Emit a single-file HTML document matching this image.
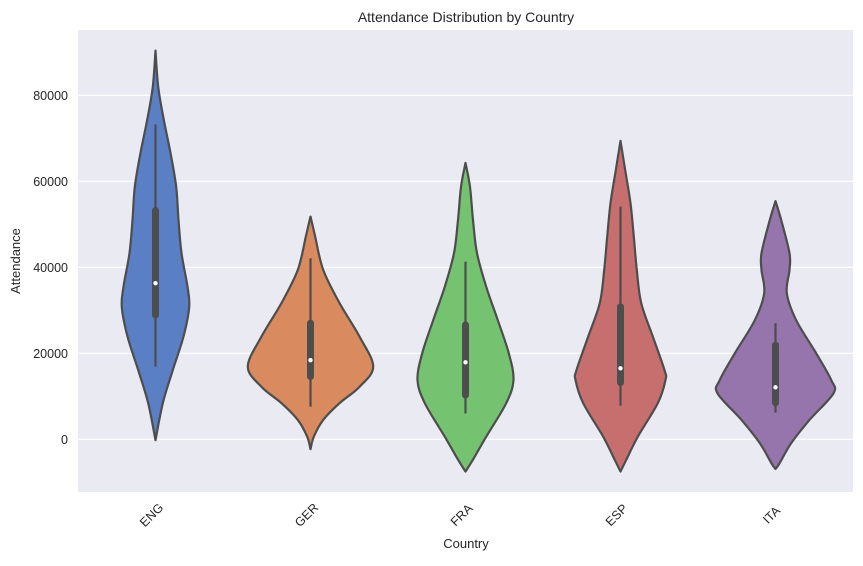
<!DOCTYPE html>
<html><head><meta charset="utf-8"><style>
body{margin:0;background:#fff;}
svg text{font-family:"Liberation Sans",Arial,sans-serif;fill:#262626;}
</style></head><body>
<svg id="chart" width="863" height="561" viewBox="0 0 863 561" xmlns="http://www.w3.org/2000/svg">
<rect x="78" y="30" width="775" height="462" fill="#eaeaf2"/>
<g id="grid"></g>
<g id="violins"></g>
<g id="axes"></g>
<text x="466" y="22" font-size="14" text-anchor="middle">Attendance Distribution by Country</text>
<text x="466" y="548" font-size="13" text-anchor="middle">Country</text>
<text x="0" y="0" font-size="13" text-anchor="middle" transform="translate(20,261) rotate(-90)">Attendance</text>
</svg>
<script>
const categories = ["ENG","GER","FRA","ESP","ITA"];
const colors = ["#5a7fc5","#d98a5e","#75c271","#c76e6e","#9575ab"];
const yTicks = [0,20000,40000,60000,80000];
// density profiles: [value, relative density]
const profENG = [[90400,0],[82000,2.7],[74300,8.3],[66600,15],[58700,20.7],[51000,23],[43300,26],[35500,32],[30800,33.7],[23900,28],[16100,17.3],[8400,7.3],[-200,0]];
const profGER = [[51800,0],[47100,4.7],[39400,12.7],[31700,29],[23900,49],[16900,62.7],[12200,49],[8400,29],[4500,12.7],[600,3.3],[-2300,0]];
const profFRA = [[64300,0],[58700,4.5],[51000,7.5],[43300,11.5],[35500,20.7],[27700,32.3],[20000,43.3],[13800,48],[8400,40.7],[600,20.7],[-4800,7.3],[-7500,0]];
const profESP = [[69400,0],[62600,4.7],[54900,10],[47100,13.3],[39400,16.3],[31700,20.7],[23900,32.3],[16100,44],[13800,45],[8400,37.3],[600,17.3],[-4800,5.7],[-7500,0]];
const profITA = [[55400,0],[51000,5.7],[43300,14],[39400,14],[34000,11.3],[27700,20.7],[20000,40.7],[13800,55.7],[10700,58],[4500,34],[-900,15.7],[-5600,4],[-6900,0]];
const profiles = [profENG,profGER,profFRA,profESP,profITA];
// [whiskerLow, q1, median, q3, whiskerHigh]
const boxENG = [16900,28900,36300,53200,73250];
const boxGER = [7600,14600,18400,27000,42100];
const boxFRA = [6000,10300,17900,26600,41300];
const boxESP = [7800,13200,16500,30800,54100];
const boxITA = [6200,8500,12100,21900,27000];
const boxes = [boxENG,boxGER,boxFRA,boxESP,boxITA];

const NS="http://www.w3.org/2000/svg";
const L=78,R=853,T=30,B=492;
function y(v){return 439.3-(v)*0.0043;}
function x(i){return L+(R-L)/categories.length*(i+0.5);}
const wScale=1.0;
function mk(tag,attrs,parent){const e=document.createElementNS(NS,tag);for(const k in attrs)e.setAttribute(k,attrs[k]);parent.appendChild(e);return e;}
const grid=document.getElementById('grid'),axes=document.getElementById('axes'),vg=document.getElementById('violins');
yTicks.forEach(t=>{
  const l=mk('line',{x1:L,x2:R,y1:y(t),y2:y(t),stroke:'#fff','stroke-width':1.2},grid);
  
  
  const tx=mk('text',{x:L-10,y:y(t)+4.5,'font-size':12.5,'text-anchor':'end'},axes);
  tx.textContent=String(t);
  
  
});
categories.forEach((c,i)=>{
  const tx=mk('text',{x:0,y:0,'font-size':12.5,'text-anchor':'middle',transform:`translate(${x(i)-1},${518}) rotate(-45)`},axes);
  tx.textContent=c;
  
  
});
function smooth(pts){
  let d=`M${pts[0][0]},${pts[0][1]}`;
  for(let i=0;i<pts.length-1;i++){
    const p0=pts[Math.max(i-1,0)],p1=pts[i],p2=pts[i+1],p3=pts[Math.min(i+2,pts.length-1)];
    const c1=[p1[0]+(p2[0]-p0[0])/6,p1[1]+(p2[1]-p0[1])/6];
    const c2=[p2[0]-(p3[0]-p1[0])/6,p2[1]-(p3[1]-p1[1])/6];
    d+=` C${c1[0]},${c1[1]} ${c2[0]},${c2[1]} ${p2[0]},${p2[1]}`;
  }
  return d;
}
categories.forEach((c,i)=>{
  const cx=x(i),pr=profiles[i];
  const right=pr.map(p=>[cx+p[1]*wScale,y(p[0])]);
  const left=pr.slice().reverse().map(p=>[cx-p[1]*wScale,y(p[0])]);
  const d=smooth(right)+' '+smooth(left).replace(/^M/,'L')+' Z';
  const p=mk('path',{d:d,fill:colors[i],stroke:'#4d4d4d','stroke-width':2.2,'stroke-linejoin':'round'},vg);
  
  
  const b=boxes[i];
  const w=mk('line',{x1:cx,x2:cx,y1:y(b[0]),y2:y(b[4]),stroke:'#4d4d4d','stroke-width':2.2},vg);
  
  
  const bx=mk('line',{x1:cx,x2:cx,y1:y(b[1]),y2:y(b[3]),stroke:'#4d4d4d','stroke-width':7,'stroke-linecap':'round'},vg);
  
  
  const m=mk('circle',{cx:cx,cy:y(b[2]),r:2.2,fill:'#fff'},vg);
  
  
});
</script>
</body></html>
